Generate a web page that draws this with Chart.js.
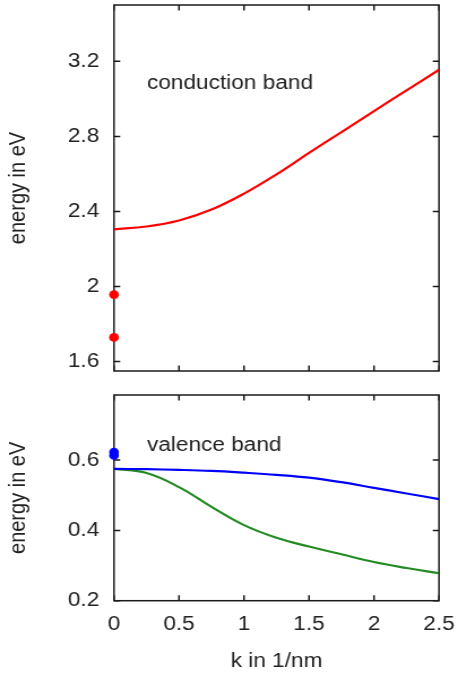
<!DOCTYPE html>
<html>
<head>
<meta charset="utf-8">
<script src="https://cdn.jsdelivr.net/npm/chart.js@4.4.1/dist/chart.umd.min.js"></script>
<style>
	html, body { margin: 0; padding: 0; background: #fff; }
	#wrap { position: relative; width: 458px; height: 677px; overflow: hidden; }
	canvas { position: absolute; left: 0; }
</style>
</head>
<body>
<div id="wrap">
	<!-- drawn narrower, then stretched to 458px like the reference -->
	<canvas id="band_top" width="405" height="385" style="top:0;width:458px;height:385px"></canvas>
	<canvas id="band_bottom" width="405" height="292" style="top:385px;width:458px;height:292px"></canvas>
</div>
<script>
// Wave number grid (1/nm) and band energies (eV).
const K_VALUES = [0, 0.25, 0.5, 0.75, 1.0, 1.25, 1.5, 1.75, 2.0, 2.25, 2.5];
const CONDUCTION = [2.305, 2.320, 2.352, 2.410, 2.495, 2.598, 2.712, 2.823, 2.935, 3.045, 3.155];
const VALENCE_BLUE = [0.575, 0.574, 0.572, 0.569, 0.564, 0.558, 0.550, 0.537, 0.521, 0.505, 0.489];
const VALENCE_GREEN = [0.575, 0.563, 0.523, 0.467, 0.415, 0.379, 0.354, 0.332, 0.310, 0.293, 0.278];

// Discrete levels at k = 0.
const DOT_K = [0, 0];
const CONDUCTION_DOTS = [1.957, 1.729];
const VALENCE_DOTS = [0.613, 0.623];

// Tick values.
const K_TICKS = [0, 0.5, 1, 1.5, 2, 2.5];
const TOP_TICKS = [1.6, 2, 2.4, 2.8, 3.2];
const BOTTOM_TICKS = [0.2, 0.4, 0.6];

const TEXT_COLOR = '#222';
const AXIS_COLOR = '#1a1a1a';
const RED = 'rgb(255, 0, 0)';
const BLUE = 'rgb(0, 0, 255)';
const GREEN = 'rgb(34, 139, 34)';

const AXIS_LEFT = 100.8;
const PAD_RIGHT = 16.8;
const TICK_LEN = 5.5;

Chart.defaults.font.family = "'Liberation Sans', Arial, sans-serif";
Chart.defaults.font.size = 20;
Chart.defaults.color = TEXT_COLOR;

function toPoints(xs, ys) {
	return xs.map((k, i) => ({ x: k, y: ys[i] }));
}

function fixedTicks(values) {
	return scale => { scale.ticks = values.map(v => ({ value: v })); };
}

function noPadding(scale) {
	scale.paddingTop = 0;
	scale.paddingBottom = 0;
	scale.paddingLeft = 0;
	scale.paddingRight = 0;
}

function fmt(v) {
	return String(+v.toFixed(2));
}

// Frame on all four sides with inward ticks, gnuplot style.
const framePlugin = {
	id: 'frame',
	beforeDatasetsDraw(chart) {
		const { ctx, chartArea: a, scales: { x, y } } = chart;
		ctx.save();
		ctx.strokeStyle = AXIS_COLOR;
		ctx.lineWidth = 1.5;
		ctx.beginPath();
		K_TICKS.forEach(v => {
			const px = x.getPixelForValue(v);
			ctx.moveTo(px, a.top);
			ctx.lineTo(px, a.top + TICK_LEN);
			ctx.moveTo(px, a.bottom);
			ctx.lineTo(px, a.bottom - TICK_LEN);
		});
		y.ticks.forEach(t => {
			const py = y.getPixelForValue(t.value);
			ctx.moveTo(a.left, py);
			ctx.lineTo(a.left + TICK_LEN, py);
			ctx.moveTo(a.right, py);
			ctx.lineTo(a.right - TICK_LEN, py);
		});
		ctx.stroke();
		ctx.strokeRect(a.left, a.top, a.right - a.left, a.bottom - a.top);
		ctx.restore();
	}
};

// Panel caption placed at a data position.
const captionPlugin = {
	id: 'caption',
	afterDatasetsDraw(chart, args, opts) {
		const { ctx, scales: { x, y } } = chart;
		ctx.save();
		ctx.font = "20px 'Liberation Sans', Arial, sans-serif";
		ctx.fillStyle = TEXT_COLOR;
		ctx.textAlign = 'left';
		ctx.textBaseline = 'alphabetic';
		ctx.fillText(opts.text, x.getPixelForValue(opts.k), y.getPixelForValue(opts.e));
		ctx.restore();
	}
};

function lineSet(data, color) {
	return {
		data: toPoints(K_VALUES, data),
		showLine: true,
		borderColor: color,
		borderWidth: 2.2,
		pointRadius: 0,
		fill: false,
		tension: 0.4,
	};
}

function dotSet(data, color) {
	return {
		data: toPoints(DOT_K, data),
		showLine: false,
		backgroundColor: color,
		borderColor: color,
		borderWidth: 0,
		pointRadius: 4.3,
		clip: false,
	};
}

function yAxis(min, max, ticks) {
	return {
		type: 'linear',
		min: min,
		max: max,
		afterBuildTicks: fixedTicks(ticks),
		afterFit: scale => { scale.width = AXIS_LEFT; noPadding(scale); },
		grid: { display: false, drawTicks: false },
		border: { display: false },
		ticks: { padding: 13, callback: fmt, color: TEXT_COLOR },
		title: {
			display: true,
			text: 'energy in eV',
			color: TEXT_COLOR,
			padding: { top: 4, bottom: 0 }
		}
	};
}

function initCharts() {
	new Chart(document.getElementById('band_top').getContext('2d'), {
		type: 'scatter',
		data: {
			datasets: [
				lineSet(CONDUCTION, RED),
				dotSet(CONDUCTION_DOTS, RED),
			]
		},
		options: {
			responsive: false,
			devicePixelRatio: 1,
			animation: false,
			layout: { padding: { top: 5, right: PAD_RIGHT, bottom: 14, left: 0 } },
			scales: {
				x: {
					type: 'linear',
					min: 0,
					max: 2.5,
					display: false,
					afterBuildTicks: fixedTicks(K_TICKS),
				},
				y: yAxis(1.55, 3.5, TOP_TICKS)
			},
			plugins: {
				legend: { display: false },
				tooltip: { enabled: false },
				caption: { text: 'conduction band', k: 0.254, e: 3.055 }
			}
		},
		plugins: [framePlugin, captionPlugin]
	});

	new Chart(document.getElementById('band_bottom').getContext('2d'), {
		type: 'scatter',
		data: {
			datasets: [
				lineSet(VALENCE_BLUE, BLUE),
				lineSet(VALENCE_GREEN, GREEN),
				dotSet(VALENCE_DOTS, BLUE),
			]
		},
		options: {
			responsive: false,
			devicePixelRatio: 1,
			animation: false,
			layout: { padding: { top: 10, right: PAD_RIGHT, bottom: 0, left: 0 } },
			scales: {
				x: {
					type: 'linear',
					min: 0,
					max: 2.5,
					afterBuildTicks: fixedTicks(K_TICKS),
					afterFit: scale => { scale.height = 76.3; noPadding(scale); },
					grid: { display: false, drawTicks: false },
					border: { display: false },
					ticks: { padding: 12, callback: fmt, color: TEXT_COLOR, maxRotation: 0 },
					title: {
						display: true,
						text: 'k in 1/nm',
						color: TEXT_COLOR,
						padding: { top: 0, bottom: 4 }
					}
				},
				y: yAxis(0.2, 0.785, BOTTOM_TICKS)
			},
			plugins: {
				legend: { display: false },
				tooltip: { enabled: false },
				caption: { text: 'valence band', k: 0.254, e: 0.627 }
			}
		},
		plugins: [framePlugin, captionPlugin]
	});
}

initCharts();
</script>
</body>
</html>
